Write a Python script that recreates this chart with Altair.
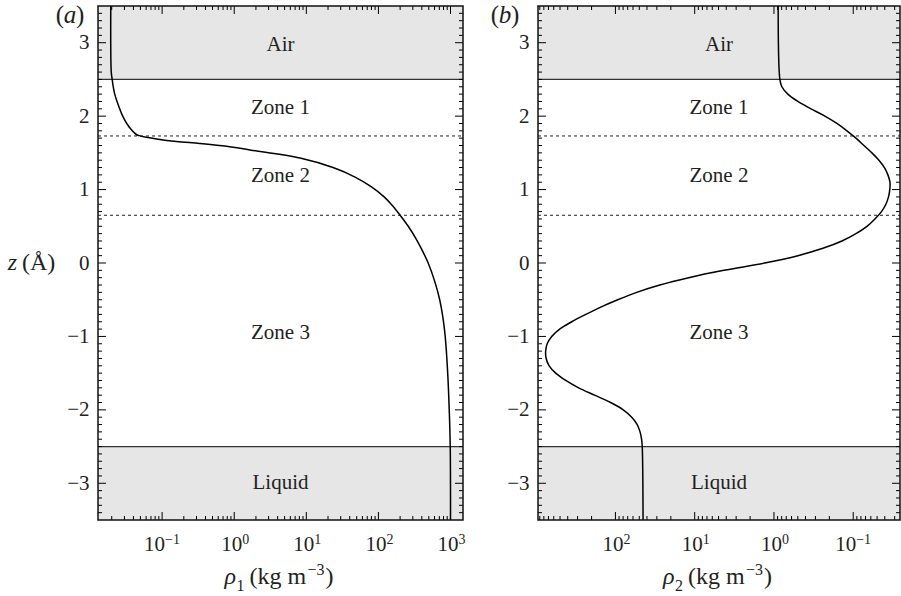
import altair as alt
import pandas as pd
import numpy as np

# ---------------- data ----------------
z_a = [3.5, 2.6, 2.5, 2.4, 2.3, 2.2, 2.1, 2.0, 1.9, 1.8, 1.75, 1.735, 1.713, 1.690,
       1.655, 1.628, 1.59, 1.54, 1.43, 1.30, 1.17, 1.04, 0.9, 0.78, 0.65, 0.5, 0.35,
       0.2, 0.0, -0.25, -0.5, -0.75, -1.0, -1.5, -2.0, -2.5, -3.5]
rho1 = [0.0194, 0.0197, 0.0203, 0.0210, 0.0220, 0.0237, 0.0258, 0.0284, 0.0323, 0.0386,
        0.0438, 0.0480, 0.0607, 0.0836,
        0.158, 0.334, 0.784, 1.65, 8.17, 23.5, 47.4, 79.3, 120, 157, 200, 259, 324,
        392, 490, 604, 708, 787, 844, 914, 960, 991, 1000]

z_b = [3.5, 2.5, 2.4, 2.3, 2.2, 2.1, 2.0, 1.9, 1.8, 1.7, 1.6, 1.5, 1.4, 1.3, 1.2, 1.1,
       1.0, 0.9, 0.8, 0.7, 0.6, 0.5, 0.4, 0.3, 0.2, 0.1, 0.0, -0.1, -0.2, -0.3, -0.4,
       -0.5, -0.6, -0.7, -0.8, -0.9, -1.0, -1.1, -1.2, -1.3, -1.4, -1.5, -1.6, -1.7,
       -1.8, -1.9, -2.0, -2.1, -2.2, -2.3, -2.4, -2.5, -3.5]
rho2 = [0.885, 0.842, 0.795, 0.668, 0.499, 0.342, 0.2277, 0.1606, 0.1201, 0.0924, 0.0733,
        0.0581, 0.0474, 0.0404, 0.0365, 0.0344, 0.0346, 0.0359, 0.0387, 0.0440, 0.0532,
        0.0671, 0.0924, 0.1389, 0.2413, 0.499, 1.303, 4.29, 11.9, 27.6, 53.8, 93.5, 153,
        237, 356, 505, 637, 726, 759, 748, 685, 567, 424, 291, 183, 115, 79.7, 62.3, 53.1,
        48.9, 46.8, 45.9, 44.8]

zone_names = ["Air", "Zone 1", "Zone 2", "Zone 3", "Liquid"]
zone_z = [2.97, 2.11, 1.18, -0.96, -3.0]
band_lo = [2.5, -3.5]
band_hi = [3.5, -2.5]
boundary_z = [2.5, -2.5]
divider_z = [1.73, 0.65]
y_tick_labels = [-3, -2, -1, 0, 1, 2, 3]
decades_a = [0.1, 1, 10, 100, 1000]
exps_a = ["\u22121", "0", "1", "2", "3"]
decades_b = [0.1, 1, 10, 100]
exps_b = ["\u22121", "0", "1", "2"]
Z_MIN, Z_MAX = -3.5, 3.5
XDOM_A = [0.0129, 1490]
XDOM_B = [0.0257, 948]

SERIF = "Liberation Serif"
INK = "#231f20"
GRAY = "#e6e6e6"
H = 514


def panel(z_vals, rho_vals, xdom, reverse, W, letter, letter_x, sub, decades, exps, show_z):
    xs = alt.Scale(type="log", domain=xdom, nice=False, reverse=reverse)
    ys = alt.Scale(domain=[Z_MIN, Z_MAX], nice=False, zero=False)
    yaxis = alt.Axis(values=y_tick_labels, format="d", ticks=False, domain=False, grid=False,
                     title=None, labelPadding=9, labelFont=SERIF, labelFontSize=21,
                     labelColor=INK)

    def Y(f):
        return alt.Y(f, scale=ys, axis=yaxis)

    def X(f):
        return alt.X(f, scale=xs, axis=None)

    one = pd.DataFrame({"k": [0]})
    layers = []

    # shaded phases
    layers.append(alt.Chart(pd.DataFrame({"lo": band_lo, "hi": band_hi})).mark_rect(color=GRAY).encode(
        x=alt.value(0), x2=alt.value(W), y=Y("lo:Q"), y2="hi:Q"))
    layers.append(alt.Chart(pd.DataFrame({"z": boundary_z})).mark_rule(color="#333", strokeWidth=1.2).encode(
        x=alt.value(0), x2=alt.value(W), y=Y("z:Q")))
    layers.append(alt.Chart(pd.DataFrame({"z": divider_z})).mark_rule(
        color=INK, strokeWidth=1, strokeDash=[3, 3]).encode(
        x=alt.value(0), x2=alt.value(W), y=Y("z:Q")))

    # curve
    cdf = pd.DataFrame({"rho": rho_vals, "z": z_vals, "i": list(range(len(z_vals)))})
    layers.append(alt.Chart(cdf).mark_line(color="black", strokeWidth=1.5,
                                           interpolate="catmull-rom").encode(
        x=X("rho:Q"), y=Y("z:Q"), order="i:Q"))

    # zone labels
    layers.append(alt.Chart(pd.DataFrame({"name": zone_names, "z": zone_z})).mark_text(
        font=SERIF, fontSize=21, color=INK).encode(
        x=alt.value(W / 2), y=Y("z:Q"), text="name:N"))

    # y ticks (inward, both sides)
    y_minor = [round(v, 1) for v in np.arange(-3.4, 3.45, 0.1) if abs(v - round(v)) > 1e-6]
    ymin_df = pd.DataFrame({"z": y_minor})
    ymaj_df = pd.DataFrame({"z": y_tick_labels})
    for df, ln in [(ymin_df, 4), (ymaj_df, 8)]:
        layers.append(alt.Chart(df).mark_rule(color="black", strokeWidth=1).encode(
            x=alt.value(0), x2=alt.value(ln), y=Y("z:Q")))
        layers.append(alt.Chart(df).mark_rule(color="black", strokeWidth=1).encode(
            x=alt.value(W - ln), x2=alt.value(W), y=Y("z:Q")))

    # x ticks (inward, top & bottom)
    x_minor = [k * 10.0 ** n for n in range(-2, 4) for k in range(2, 10)
               if xdom[0] < k * 10.0 ** n < xdom[1]]
    xmin_df = pd.DataFrame({"v": x_minor})
    xmaj_df = pd.DataFrame({"v": decades})
    for df, ln in [(xmin_df, 4), (xmaj_df, 8)]:
        layers.append(alt.Chart(df).mark_rule(color="black", strokeWidth=1).encode(
            x=X("v:Q"), y=alt.value(H - ln), y2=alt.value(H)))
        layers.append(alt.Chart(df).mark_rule(color="black", strokeWidth=1).encode(
            x=X("v:Q"), y=alt.value(0), y2=alt.value(ln)))

    # x tick labels 10^n
    lab = pd.DataFrame({"v": decades, "e": exps, "neg": [e.startswith("\u2212") for e in exps]})
    for neg, dx in [(True, 3), (False, 8)]:
        sel = "datum.neg" if neg else "!datum.neg"
        layers.append(alt.Chart(lab).transform_filter(sel).mark_text(
            text="10", font=SERIF, fontSize=21, color=INK, align="right", baseline="alphabetic",
            dx=dx).encode(x=X("v:Q"), y=alt.value(H + 31)))
        layers.append(alt.Chart(lab).transform_filter(sel).mark_text(
            font=SERIF, fontSize=14, color=INK, align="left", baseline="alphabetic",
            dx=dx).encode(x=X("v:Q"), y=alt.value(H + 24), text="e:N"))

    # x title: rho_n (kg m^-3)
    cx = W / 2
    tb = H + 64
    pieces = [
        ("\u03c1", cx - 56, tb, 24, "italic"),
        (sub, cx - 44, tb + 7, 16, "normal"),
        ("(kg m", cx - 31, tb, 24, "normal"),
        ("\u22123", cx + 27, tb - 9, 16, "normal"),
        (")", cx + 45, tb, 24, "normal"),
    ]
    for txt, px, py, fs, st in pieces:
        layers.append(alt.Chart(one).mark_text(
            text=txt, font=SERIF, fontSize=fs, fontStyle=st, color=INK, align="left",
            baseline="alphabetic").encode(x=alt.value(px), y=alt.value(py)))

    # panel letter
    for txt, px, al, st in [("(", letter_x - 6, "right", "normal"),
                            (letter, letter_x, "center", "italic"),
                            (")", letter_x + 6, "left", "normal")]:
        layers.append(alt.Chart(one).mark_text(
            text=txt, font=SERIF, fontSize=25, fontStyle=st, color=INK, align=al,
            baseline="middle").encode(x=alt.value(px), y=alt.value(9)))

    if show_z:
        layers.append(alt.Chart(one).mark_text(
            text="z", font=SERIF, fontSize=24, fontStyle="italic", color=INK, align="right",
            baseline="middle").encode(x=alt.value(-81), y=alt.value(H / 2)))
        layers.append(alt.Chart(one).mark_text(
            text="(\u00c5)", font=SERIF, fontSize=24, color=INK, align="left",
            baseline="middle").encode(x=alt.value(-76), y=alt.value(H / 2)))

    # frame
    layers.append(alt.Chart(one).mark_rect(fillOpacity=0, stroke="#111", strokeWidth=1.5).encode(
        x=alt.value(0), x2=alt.value(W), y=alt.value(0), y2=alt.value(H)))

    return alt.layer(*layers).properties(width=W, height=H)


pa = panel(z_a, rho1, XDOM_A, False, 365, "a", -28, "1", decades_a, exps_a, True)
pb = panel(z_b, rho2, XDOM_B, True, 362, "b", -33, "2", decades_b, exps_b, False)

chart = alt.hconcat(pa, pb, spacing=75, bounds="flush").properties(
    padding={"left": 7, "top": 3, "right": 0, "bottom": 0}
).configure_view(stroke=None)

chart.save("out.html", embed_options={"renderer": "svg", "actions": False})
